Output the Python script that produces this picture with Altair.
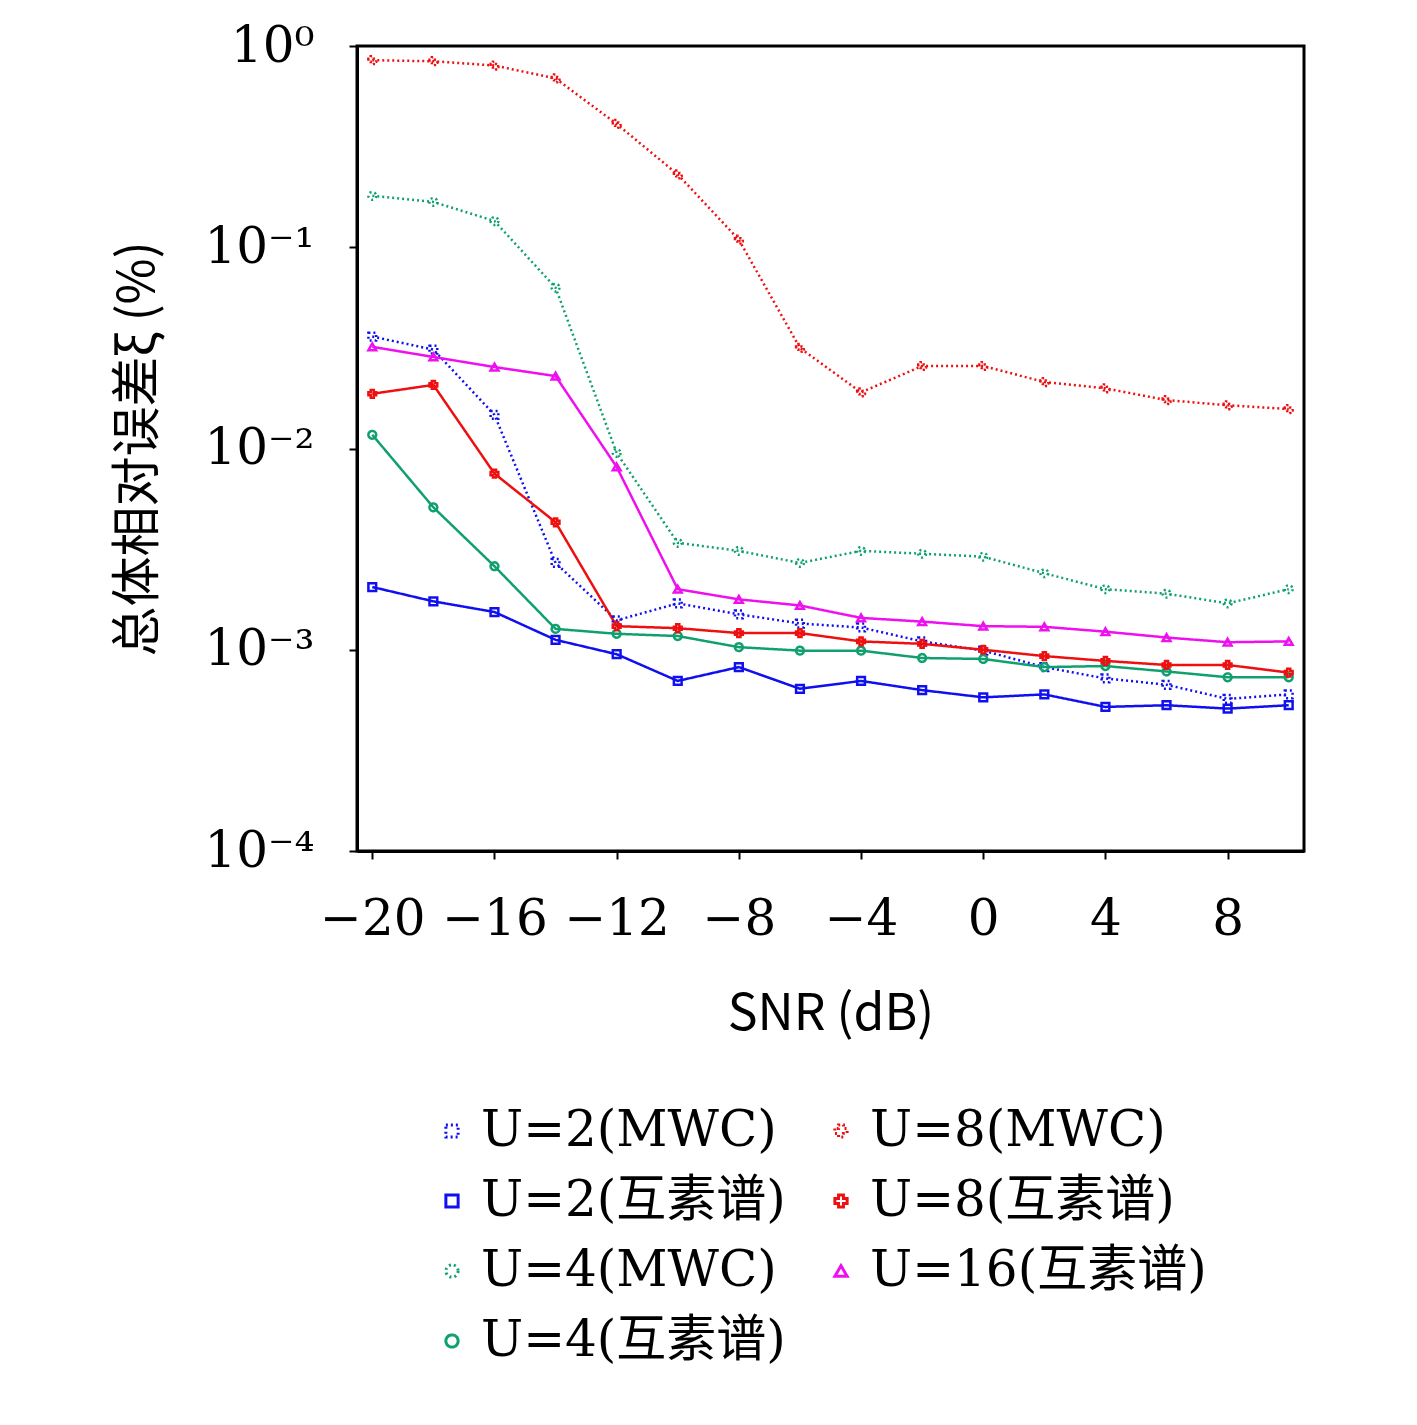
import altair as alt
import pandas as pd

snr = list(range(-20, 12, 2))

mwc_u2 = [0.036, 0.031, 0.0147, 0.0027, 0.0014, 0.0017, 0.0015, 0.00135, 0.00129, 0.0011, 0.00099, 0.00082, 0.00072, 0.00067, 0.00057, 0.0006]
mwc_u4 = [0.18, 0.168, 0.135, 0.063, 0.0095, 0.0034, 0.0031, 0.0027, 0.0031, 0.0030, 0.0029, 0.0024, 0.0020, 0.0019, 0.0017, 0.0020]
mwc_u8 = [0.85, 0.84, 0.80, 0.69, 0.41, 0.23, 0.109, 0.0316, 0.019, 0.0257, 0.0257, 0.0214, 0.0199, 0.0174, 0.0164, 0.0157]
hu_u2 = [0.00205, 0.00174, 0.00154, 0.00112, 0.00095, 0.0007, 0.00082, 0.00064, 0.0007, 0.00063, 0.00058, 0.0006, 0.00052, 0.00053, 0.00051, 0.00053]
hu_u4 = [0.0117, 0.0051, 0.0026, 0.00127, 0.0012, 0.00117, 0.00103, 0.00099, 0.00099, 0.00091, 0.0009, 0.00082, 0.00083, 0.00078, 0.00073, 0.00073]
hu_u8 = [0.0187, 0.0207, 0.0075, 0.0043, 0.00131, 0.00128, 0.00121, 0.00121, 0.0011, 0.00107, 0.001, 0.00093, 0.00088, 0.00084, 0.00084, 0.00077]
hu_u16 = [0.032, 0.0285, 0.0254, 0.0229, 0.0081, 0.002, 0.00178, 0.00166, 0.00144, 0.00138, 0.00131, 0.0013, 0.00123, 0.00115, 0.00109, 0.0011]

series = [
    ("U=2(MWC)", mwc_u2), ("U=2(互素谱)", hu_u2),
    ("U=4(MWC)", mwc_u4), ("U=4(互素谱)", hu_u4),
    ("U=8(MWC)", mwc_u8), ("U=8(互素谱)", hu_u8),
    ("U=16(互素谱)", hu_u16),
]
names = [s[0] for s in series]
colors = ["#1010ee", "#1010ee", "#10a070", "#10a070", "#ee1010", "#ee1010", "#ee10ee"]
dashes = [[2, 3], [1, 0], [2, 3], [1, 0], [2, 3], [1, 0], [1, 0]]
shapes = ["square", "square", "circle", "circle", "cross", "cross", "triangle-up"]

rows = []
for name, vals in series:
    for x, v in zip(snr, vals):
        rows.append({"snr": x, "err": v, "series": name})
df = pd.DataFrame(rows)

font = "DejaVu Serif"
ylabels = ("datum.value > 0.5 ? '10⁰' : datum.value > 0.05 ? '10⁻¹' : "
           "datum.value > 0.005 ? '10⁻²' : datum.value > 0.0005 ? '10⁻³' : '10⁻⁴'")

chart = alt.Chart(df).mark_line(
    strokeWidth=2.5,
    point=alt.OverlayMarkDef(filled=False, size=60, strokeWidth=2.5),
).encode(
    x=alt.X("snr:Q", scale=alt.Scale(domain=[-20.5, 10.5], nice=False),
            axis=alt.Axis(values=[-20, -16, -12, -8, -4, 0, 4, 8], title="SNR (dB)",
                          labelExpr="replace(datum.label, '-', '−')",
                          grid=False, tickSize=8, labelPadding=35, titlePadding=45)),
    y=alt.Y("err:Q", scale=alt.Scale(type="log", domain=[1e-4, 1], nice=False),
            axis=alt.Axis(values=[1e-4, 1e-3, 1e-2, 1e-1, 1], grid=False, tickSize=8,
                          labelExpr=ylabels,
                          title="总体相对误差ξ (%)", titlePadding=40, labelPadding=35)),
    color=alt.Color("series:N", scale=alt.Scale(domain=names, range=colors), title=None,
                    legend=alt.Legend(orient="none", legendX=70, legendY=1060, columns=2,
                                      labelFontSize=50, labelFont=font + ", Noto Sans CJK SC",
                                      symbolSize=150, symbolStrokeWidth=3, rowPadding=20,
                                      columnPadding=30, labelLimit=400)),
    strokeDash=alt.StrokeDash("series:N", scale=alt.Scale(domain=names, range=dashes), title=None),
    shape=alt.Shape("series:N", scale=alt.Scale(domain=names, range=shapes), title=None),
).properties(
    width=947, height=805,
    autosize=alt.AutoSizeParams(type="none"),
    padding={"left": 349, "top": 38, "right": 100, "bottom": 560},
).configure_axis(
    labelFont=font, labelFontSize=50, labelColor="black",
    titleFont="Noto Sans CJK SC", titleFontSize=50, titleColor="black", titleFontWeight="normal",
    domainColor="black", domainWidth=3, tickColor="black", tickWidth=2,
).configure_view(stroke="black", strokeWidth=3)

chart.save("out.html", embed_options={"renderer": "svg", "actions": False})
